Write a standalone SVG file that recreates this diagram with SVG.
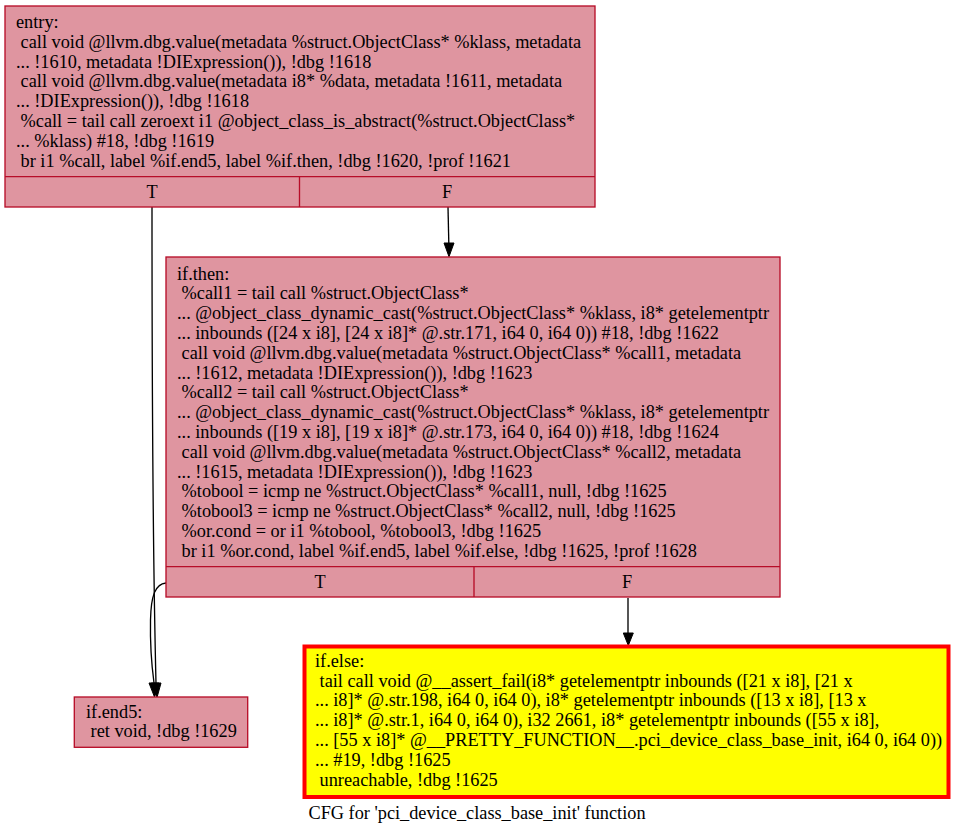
<svg xmlns="http://www.w3.org/2000/svg" width="957" height="835" viewBox="0 0 957 835">
<style>
text{font-family:"Liberation Serif","Times New Roman",serif;font-size:18.3px;fill:#000;white-space:pre}
.n{fill:#df95a0;stroke:#b70d28;stroke-width:1.33}
.d{stroke:#b70d28;stroke-width:1.33;fill:none}
.e{stroke:#000;stroke-width:1.33;fill:none}
.a{fill:#000;stroke:#000;stroke-width:1}
.c{text-anchor:middle}
</style>
<rect width="957" height="835" fill="#fff"/>
<g id="connectors">
<path class="e" d="M152,207 C152,330 153,560 156,683"/>
<path class="a" d="M151.3,683 L157,697.5 L161,683 Z"/>
<path class="e" d="M166,583 C155,584 151,596 150.5,620 C150,645 152,668 154,683"/>
<path class="a" d="M149,683 L154.5,697 L159,683 Z"/>
<path class="e" d="M448,207 L448.8,243"/>
<path class="a" d="M444,243 L449,256.7 L454,243 Z"/>
<path class="e" d="M628,598 L628,633"/>
<path class="a" d="M623.3,633 L628.3,645.5 L633.3,633 Z"/>
</g>
<g id="entry">
<rect class="n" x="5" y="6" width="590" height="201"/>
<path class="d" d="M5,176.7 H595 M299.5,176.7 V207"/>
<text x="16" y="28">entry:</text>
<text x="16" y="47.8"> call void @llvm.dbg.value(metadata %struct.ObjectClass* %klass, metadata</text>
<text x="16" y="67.6">... !1610, metadata !DIExpression()), !dbg !1618</text>
<text x="16" y="87.4"> call void @llvm.dbg.value(metadata i8* %data, metadata !1611, metadata</text>
<text x="16" y="107.2">... !DIExpression()), !dbg !1618</text>
<text x="16" y="127"> %call = tail call zeroext i1 @object_class_is_abstract(%struct.ObjectClass*</text>
<text x="16" y="146.8">... %klass) #18, !dbg !1619</text>
<text x="16" y="166.6"> br i1 %call, label %if.end5, label %if.then, !dbg !1620, !prof !1621</text>
<text class="c" x="152" y="197.7">T</text>
<text class="c" x="447" y="197.7">F</text>
</g>
<g id="if.then">
<rect class="n" x="166" y="257" width="614" height="340"/>
<path class="d" d="M166,566.7 H780 M474,566.7 V597"/>
<text x="177" y="279.5">if.then:</text>
<text x="177" y="299.3"> %call1 = tail call %struct.ObjectClass*</text>
<text x="177" y="319.1">... @object_class_dynamic_cast(%struct.ObjectClass* %klass, i8* getelementptr</text>
<text x="177" y="338.9">... inbounds ([24 x i8], [24 x i8]* @.str.171, i64 0, i64 0)) #18, !dbg !1622</text>
<text x="177" y="358.7"> call void @llvm.dbg.value(metadata %struct.ObjectClass* %call1, metadata</text>
<text x="177" y="378.5">... !1612, metadata !DIExpression()), !dbg !1623</text>
<text x="177" y="398.3"> %call2 = tail call %struct.ObjectClass*</text>
<text x="177" y="418.1">... @object_class_dynamic_cast(%struct.ObjectClass* %klass, i8* getelementptr</text>
<text x="177" y="437.9">... inbounds ([19 x i8], [19 x i8]* @.str.173, i64 0, i64 0)) #18, !dbg !1624</text>
<text x="177" y="457.7"> call void @llvm.dbg.value(metadata %struct.ObjectClass* %call2, metadata</text>
<text x="177" y="477.5">... !1615, metadata !DIExpression()), !dbg !1623</text>
<text x="177" y="497.3"> %tobool = icmp ne %struct.ObjectClass* %call1, null, !dbg !1625</text>
<text x="177" y="517.1"> %tobool3 = icmp ne %struct.ObjectClass* %call2, null, !dbg !1625</text>
<text x="177" y="536.9"> %or.cond = or i1 %tobool, %tobool3, !dbg !1625</text>
<text x="177" y="556.7"> br i1 %or.cond, label %if.end5, label %if.else, !dbg !1625, !prof !1628</text>
<text class="c" x="320" y="588">T</text>
<text class="c" x="627" y="588">F</text>
</g>
<g id="if.else">
<rect x="304.5" y="646.5" width="644" height="150.5" fill="#ffff00" stroke="#ff0000" stroke-width="4"/>
<text x="315" y="666.7">if.else:</text>
<text x="315" y="686.5"> tail call void @__assert_fail(i8* getelementptr inbounds ([21 x i8], [21 x</text>
<text x="315" y="706.3">... i8]* @.str.198, i64 0, i64 0), i8* getelementptr inbounds ([13 x i8], [13 x</text>
<text x="315" y="726.1">... i8]* @.str.1, i64 0, i64 0), i32 2661, i8* getelementptr inbounds ([55 x i8],</text>
<text x="315" y="745.9">... [55 x i8]* @__PRETTY_FUNCTION__.pci_device_class_base_init, i64 0, i64 0))</text>
<text x="315" y="765.7">... #19, !dbg !1625</text>
<text x="315" y="785.5"> unreachable, !dbg !1625</text>
</g>
<g id="if.end5">
<rect class="n" x="74.3" y="697" width="173.4" height="50.3"/>
<text x="86" y="717.5">if.end5:</text>
<text x="86" y="737"> ret void, !dbg !1629</text>
</g>
<g id="title">
<text class="c" x="477" y="818.5">CFG for 'pci_device_class_base_init' function</text>
</g>
</svg>
